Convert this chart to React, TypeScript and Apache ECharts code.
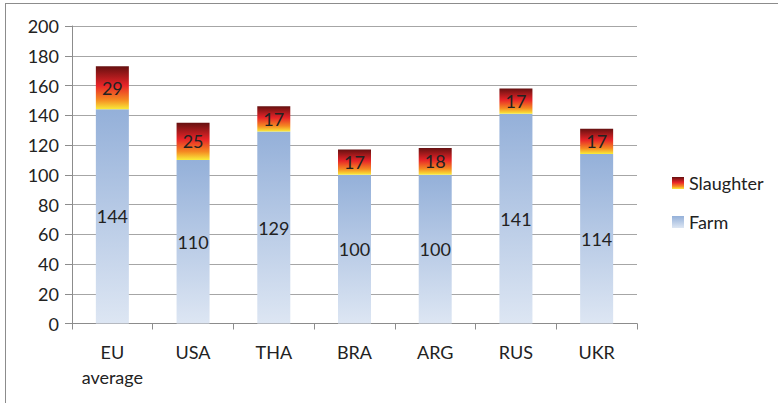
import React, { useEffect, useRef } from "react";
import * as echarts from "echarts";

const categories = ["EU\naverage", "USA", "THA", "BRA", "ARG", "RUS", "UKR"];
const farmValues = [144, 110, 129, 100, 100, 141, 114];
const slaughterValues = [29, 25, 17, 17, 18, 17, 17];
const yTicks = { min: 0, max: 200, interval: 20 };

const FONT = "Lato, 'Open Sans', sans-serif";

export default function App() {
  const ref = useRef<HTMLDivElement>(null);
  useEffect(() => {
    if (!ref.current) return;
    const chart = echarts.init(ref.current, null, { renderer: "svg" });
    const farmGrad = new echarts.graphic.LinearGradient(0, 0, 0, 1, [
      { offset: 0, color: "#94B0D9" },
      { offset: 1, color: "#DDE6F3" },
    ]);
    const slaughterGrad = new echarts.graphic.LinearGradient(0, 0, 0, 1, [
      { offset: 0, color: "#651010" },
      { offset: 0.45, color: "#E82428" },
      { offset: 0.78, color: "#F58A22" },
      { offset: 1, color: "#F9EC3A" },
    ]);
    chart.setOption({
      animation: false,
      textStyle: { fontFamily: FONT },
      grid: { left: 72, right: 141, top: 26, bottom: 79.5, containLabel: false },
      legend: {
        orient: "vertical",
        left: 667,
        top: 169,
        itemWidth: 12,
        itemHeight: 12,
        itemGap: 21,
        icon: "rect",
        data: ["Slaughter", "Farm"],
        textStyle: { fontSize: 18, color: "#222", fontFamily: FONT },
      },
      xAxis: {
        type: "category",
        data: categories,
        axisLine: { lineStyle: { color: "#8C8C8C", width: 1 } },
        axisTick: { show: true, length: 6, lineStyle: { color: "#8C8C8C" } },
        axisLabel: {
          fontSize: 18,
          color: "#222",
          lineHeight: 25,
          margin: 16,
          fontFamily: FONT,
        },
      },
      yAxis: {
        type: "value",
        min: yTicks.min,
        max: yTicks.max,
        interval: yTicks.interval,
        axisLine: { show: true, lineStyle: { color: "#8C8C8C", width: 1 } },
        axisTick: { show: true, length: 7, lineStyle: { color: "#8C8C8C" } },
        splitLine: { lineStyle: { color: "#A6A6A6", width: 1 } },
        axisLabel: { fontSize: 18, color: "#222", margin: 13, fontFamily: FONT },
      },
      series: [
        {
          name: "Farm",
          type: "bar",
          stack: "total",
          barWidth: 33,
          data: farmValues,
          itemStyle: { color: farmGrad },
          label: {
            show: true,
            position: "inside",
            fontSize: 18,
            color: "#222",
            fontFamily: FONT,
          },
        },
        {
          name: "Slaughter",
          type: "bar",
          stack: "total",
          barWidth: 33,
          data: slaughterValues,
          itemStyle: { color: slaughterGrad },
          label: {
            show: true,
            position: "inside",
            fontSize: 18,
            color: "#222",
            fontFamily: FONT,
          },
        },
      ],
    });
    return () => chart.dispose();
  }, []);
  return (
    <div style={{ position: "absolute", left: 0, top: 0, width: 778, height: 403, overflow: "hidden", background: "#fff" }}>
      <div
        style={{
          position: "absolute",
          left: 5,
          top: 3,
          width: 800,
          height: 420,
          borderLeft: "1px solid #8C8C8C",
          borderTop: "1px solid #8C8C8C",
        }}
      />
      <div ref={ref} style={{ position: "absolute", left: 0, top: 0, width: 778, height: 403 }} />
    </div>
  );
}
